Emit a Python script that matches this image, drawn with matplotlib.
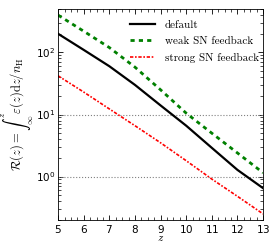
import numpy as np
import matplotlib
matplotlib.use('Agg')
import matplotlib.pyplot as plt

plt.rcParams['mathtext.fontset'] = 'cm'
plt.rcParams['axes.formatter.use_mathtext'] = True

z = [5, 6, 7, 8, 9, 10, 11, 12, 13]
r_default = [200, 110, 60, 30, 14, 6.6, 2.9, 1.28, 0.65]
r_weak = [400, 220, 120, 58, 25, 10.5, 5.0, 2.4, 1.15]
r_strong = [42, 23, 12.3, 6.6, 3.5, 1.8, 0.91, 0.48, 0.25]

fig = plt.figure(figsize=(2.69, 2.46), dpi=100)
ax = fig.add_axes([0.216, 0.106, 0.762, 0.857])

ax.axhline(1, color='gray', ls=':', lw=0.8)
ax.axhline(10, color='gray', ls=':', lw=0.8)

ax.plot(z, r_default, color='black', lw=1.6, label='default')
ax.plot(z, r_weak, color='green', lw=2.0, ls=(0, (1.5, 1.5)), label='weak SN feedback')
ax.plot(z, r_strong, color='red', lw=1.2, ls=(0, (2, 1, 1, 1)), label='strong SN feedback')

ax.set_yscale('log')
ax.set_xlim(5, 13)
ax.set_ylim(0.2, 500)
ax.set_xticks(range(5, 14))
ax.xaxis.set_minor_locator(matplotlib.ticker.MultipleLocator(0.25))
ax.tick_params(which='both', direction='in', top=True, right=True, labelsize=7.5, pad=2)
ax.tick_params(which='major', length=3.5, width=0.6)
ax.tick_params(which='minor', length=2, width=0.5)
for s in ax.spines.values():
    s.set_linewidth(0.6)

ax.set_xlabel(r'$z$', fontsize=8, labelpad=-1)
ax.set_ylabel(r'$\mathcal{R}(z)=\int_{\infty}^{z}\varepsilon(z)\mathrm{d}z/n_\mathrm{H}$', fontsize=9, labelpad=0)

leg = ax.legend(loc='upper right', frameon=False, handlelength=2.2,
                prop={'family': 'cmr10', 'size': 8}, bbox_to_anchor=(1.0, 0.97),
                borderaxespad=0, labelspacing=0.6, handletextpad=0.9)

fig.savefig('out.png', dpi=100)
